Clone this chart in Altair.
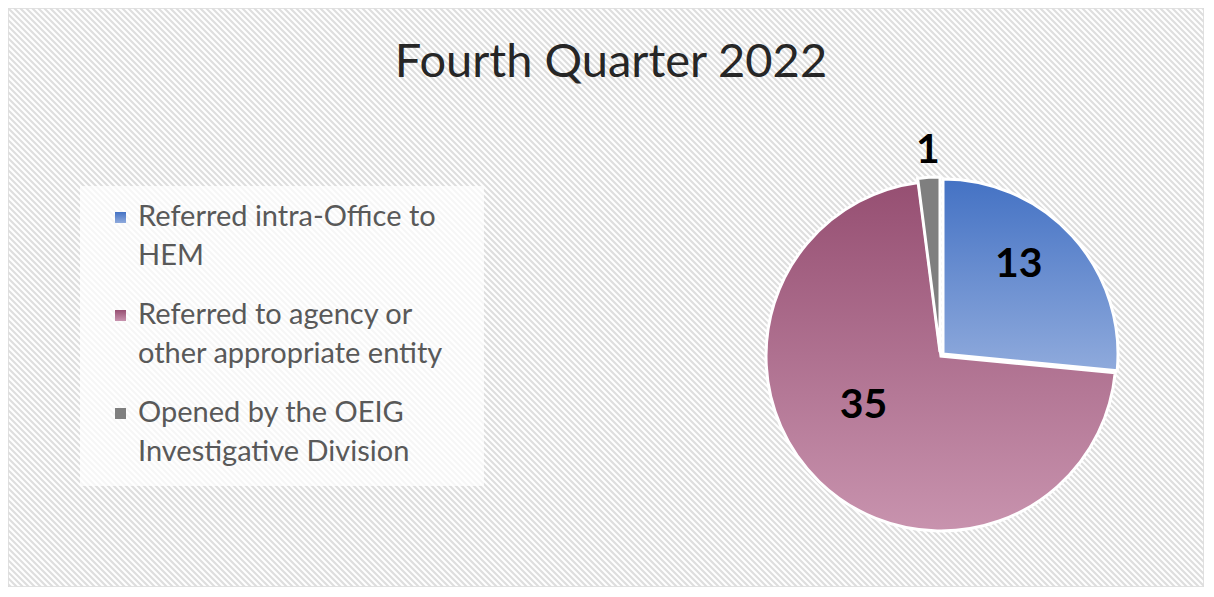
import altair as alt
import pandas as pd

# ---- data ----
categories = [
    "Referred intra-Office to HEM",
    "Referred to agency or other appropriate entity",
    "Opened by the OEIG Investigative Division",
]
values = [13, 35, 1]
value_labels = ["13", "35", "1"]
legend_lines = [
    "Referred intra-Office to\nHEM",
    "Referred to agency or\nother appropriate entity",
    "Opened by the OEIG\nInvestigative Division",
]
title_text = "Fourth Quarter 2022"

# ---- layout / style ----
W, H = 1196, 579
CX, CY, R = 933, 348, 175
FONT = "Lato"


def lin(c0, c1):
    return alt.LinearGradient(
        gradient="linear", x1=0, y1=0, x2=0, y2=1,
        stops=[alt.GradientStop(offset=0, color=c0), alt.GradientStop(offset=1, color=c1)],
    )


fills = [lin("#4472C4", "#8FAADC"), lin("#964F72", "#C893AE"), "#7F7F7F"]
slice_offsets = [(2, -2), (0, 0), (-1, -4)]
label_pos = [  # radius, dx, dy
    (120, -11, -10),
    (100, -8, -22),
    (205, 0, 0),
]

df = pd.DataFrame({
    "cat": categories,
    "value": values,
    "label": value_labels,
    "legend": legend_lines,
    "order": list(range(len(categories))),
})

base = (
    alt.Chart(df)
    .transform_joinaggregate(total="sum(value)")
    .transform_window(cum="sum(value)", sort=[alt.SortField("order")])
    .transform_calculate(t0="2*PI*(datum.cum - datum.value)/datum.total")
    .transform_calculate(t1="2*PI*datum.cum/datum.total")
    .transform_calculate(tm="(datum.t0 + datum.t1)/2")
)

# background hatch
hatch = (
    alt.Chart(alt.sequence(0, 320, as_="i"))
    .transform_calculate(xa="datum.i*6 - 600", ya="0")
    .transform_calculate(xb="datum.xa + 600", yb="600")
    .mark_rule(stroke="#DEDEDE", strokeWidth=2.2, clip=True)
    .encode(
        x=alt.X("xa:Q", scale=None),
        y=alt.Y("ya:Q", scale=None),
        x2=alt.X2("xb:Q"),
        y2=alt.Y2("yb:Q"),
    )
)

legend_box = alt.Chart(pd.DataFrame({"k": [0]})).mark_rect(
    fill="white", opacity=0.72
).encode(x=alt.value(72), x2=alt.value(476), y=alt.value(178), y2=alt.value(478))

layers = [hatch, legend_box]

for i in range(len(categories)):
    dx, dy = slice_offsets[i]
    layers.append(
        base.transform_filter(f"datum.order == {i}")
        .mark_arc(fill=fills[i], stroke="white", strokeWidth=3, radius=R)
        .encode(
            theta=alt.Theta("t0:Q", scale=None),
            theta2=alt.Theta2("t1"),
            x=alt.value(CX + dx),
            y=alt.value(CY + dy),
        )
    )

for i in range(len(categories)):
    r, dx, dy = label_pos[i]
    layers.append(
        base.transform_filter(f"datum.order == {i}")
        .mark_text(
            font=FONT, fontSize=41, fontWeight="bold", color="black",
            radius=r, dx=dx, dy=dy, align="center", baseline="middle",
        )
        .encode(
            theta=alt.Theta("tm:Q", scale=None),
            x=alt.value(CX),
            y=alt.value(CY),
            text="label:N",
        )
    )

# legend
for i in range(len(categories)):
    layers.append(
        base.transform_filter(f"datum.order == {i}")
        .transform_calculate(ly="204 + datum.order*98")
        .transform_calculate(ly2="datum.ly + 11")
        .mark_rect(fill=fills[i])
        .encode(
            x=alt.value(107), x2=alt.value(118),
            y=alt.Y("ly:Q", scale=None), y2=alt.Y2("ly2"),
        )
    )

legend_text = (
    base.transform_calculate(ly="195 + datum.order*98")
    .mark_text(
        font=FONT, fontSize=29, color="#595959", align="left", baseline="top",
        lineBreak="\n", lineHeight=39,
    )
    .encode(x=alt.value(130), y=alt.Y("ly:Q", scale=None), text="legend:N")
)
layers.append(legend_text)

title = alt.Chart(pd.DataFrame({"t": [title_text]})).mark_text(
    font=FONT, fontSize=47, color="#262626", align="center", baseline="alphabetic"
).encode(x=alt.value(603), y=alt.value(69), text="t:N")
layers.append(title)

chart = (
    alt.layer(*layers)
    .properties(width=W, height=H, background="white", padding=0, autosize=alt.AutoSizeParams(type="none"))
    .configure_view(stroke="#D9D9D9", strokeWidth=1.5)
)

chart.save("out.html", embed_options={"renderer": "svg", "actions": False})
